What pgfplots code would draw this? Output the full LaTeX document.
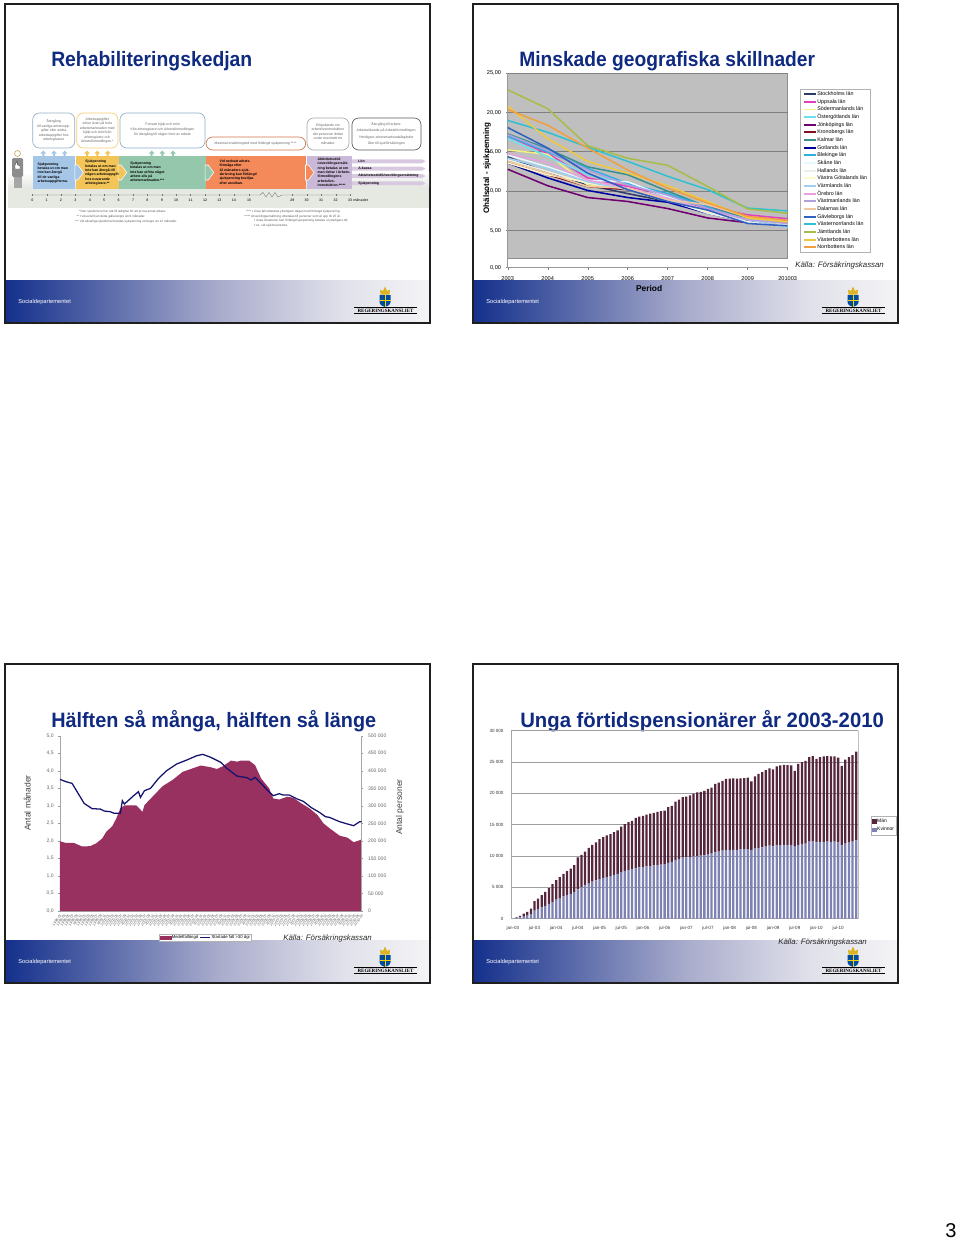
\documentclass[border=0pt]{standalone}
\usepackage{fontspec}
\setmainfont{Liberation Sans}
\newfontfamily\lserif{Liberation Serif}
\usepackage{pgfplots}
\usepackage{pgfplotstable}
\pgfplotsset{compat=1.18}
\newcommand\fs[2]{\fontsize{#1pt}{#2pt}\selectfont}
\definecolor{navy}{HTML}{0F2A80}
\definecolor{footL}{HTML}{14308C}
\definecolor{footM}{HTML}{A8ABCB}
\definecolor{footN}{HTML}{E0E0EA}
\definecolor{footR}{HTML}{F4F4F6}
\definecolor{bandC}{HTML}{E6E9E2}
\definecolor{cStockholm}{HTML}{2A3A6A}
\definecolor{cUppsala}{HTML}{E040C0}
\definecolor{cSoder}{HTML}{F5F080}
\definecolor{cOster}{HTML}{70E0F0}
\definecolor{cJonk}{HTML}{700070}
\definecolor{cKron}{HTML}{801020}
\definecolor{cKalmar}{HTML}{3A9090}
\definecolor{cGotland}{HTML}{0000A0}
\definecolor{cBlek}{HTML}{30B0E0}
\definecolor{cSkane}{HTML}{E8F8FF}
\definecolor{cHalland}{HTML}{E8F0E8}
\definecolor{cVG}{HTML}{FFF8C8}
\definecolor{cVarm}{HTML}{A0D0F0}
\definecolor{cOrebro}{HTML}{E8A0E0}
\definecolor{cVastm}{HTML}{B0A0E0}
\definecolor{cDal}{HTML}{F0C8A0}
\definecolor{cGav}{HTML}{3060C0}
\definecolor{cVastn}{HTML}{30C0D0}
\definecolor{cJamt}{HTML}{A8BC48}
\definecolor{cVastb}{HTML}{F0C840}
\definecolor{cNorr}{HTML}{F0A040}
\definecolor{maroon}{HTML}{983060}
\definecolor{lineNavy}{HTML}{14146E}
\definecolor{manC}{HTML}{55263C}
\definecolor{kvinnaC}{HTML}{7D82B2}
\definecolor{blueB}{HTML}{A6C6E8}
\definecolor{yellowB}{HTML}{F3C458}
\definecolor{greenB}{HTML}{95C7AD}
\definecolor{orangeB}{HTML}{F48A5A}
\definecolor{purpleB}{HTML}{C9B8D8}
\definecolor{lilacB}{HTML}{D8C8E0}

\newcommand\slidebase[2]{%
\begin{scope}[x=0.75pt,y=-0.75pt,xshift=#1*0.75pt,yshift=-#2*0.75pt]
\shade[left color=footL,right color=footM] (5,280) rectangle (217.5,322);
\shade[left color=footM,right color=footN] (217,280) rectangle (340.5,322);
\shade[left color=footN,right color=footR] (340,280) rectangle (430,322);
\draw[draw=black!88,line width=1.5pt] (5,4) rectangle (430,322.5);
\node[anchor=west,inner sep=0pt,text=white,font=\fs{4.3}{5}] at (18,302.5) {Socialdepartementet};
\fill[yellow!60!orange!85!black] (380.5,294.5) -- (380,289.5) -- (383,291) -- (385,286.5) -- (387,291) -- (390,289.5) -- (389.5,294.5) -- cycle;
\fill[blue!45!black!70!cyan] (379.5,295) -- (390.5,295) -- (390.5,302) .. controls (390.5,305) and (387,306.5) .. (385,307) .. controls (383,306.5) and (379.5,305) .. (379.5,302) -- cycle;
\draw[yellow!70!orange,line width=0.5pt] (385,295) -- (385,306.5) (379.5,300.5) -- (390.5,300.5);
\draw[black,line width=0.45pt] (354,307.3) -- (417,307.3);
\draw[black,line width=0.7pt] (354,313.7) -- (417,313.7);
\node[inner sep=0pt,font=\lserif\bfseries\fs{3.75}{4}] at (385.5,310.4) {REGERINGSKANSLIET};
\end{scope}}

\pgfplotstableread{
x w m
0 0 0
1 100 100
2 200 250
3 350 450
4 500 600
5 750 850
6 1300 1500
7 1550 1650
8 1800 1950
9 2050 2250
10 2350 2550
11 2650 2850
12 3050 3100
13 3300 3350
14 3550 3600
15 3750 3850
16 3950 4050
17 4250 4300
18 4700 5100
19 5050 5150
20 5300 5400
21 5600 5700
22 5900 5900
23 6100 6100
24 6300 6400
25 6500 6500
26 6650 6650
27 6800 6700
28 7000 6800
29 7150 6950
30 7450 7250
31 7650 7450
32 7800 7600
33 7900 7700
34 8050 8050
35 8200 8100
36 8250 8150
37 8350 8250
38 8400 8350
39 8500 8400
40 8600 8450
41 8650 8500
42 8700 8550
43 8900 8900
44 9050 8950
45 9350 9350
46 9550 9450
47 9750 9650
48 9800 9700
49 9850 9850
50 9950 10000
51 10000 10150
52 10050 10200
53 10100 10300
54 10300 10400
55 10400 10500
56 10600 10900
57 10700 11000
58 10850 11150
59 10950 11350
60 10950 11400
61 11000 11400
62 11000 11350
63 11050 11350
64 11100 11350
65 11100 11400
66 11000 10900
67 11200 11500
68 11300 11800
69 11400 12000
70 11500 12200
71 11650 12350
72 11550 12300
73 11700 12600
74 11750 12700
75 11800 12750
76 11800 12700
77 11800 12650
78 11500 12100
79 11800 12900
80 11950 13050
81 12000 13200
82 12300 13500
83 12400 13550
84 12200 13300
85 12250 13550
86 12250 13650
87 12300 13650
88 12250 13650
89 12300 13600
90 12200 13500
91 11700 12700
92 12050 13350
93 12150 13650
94 12300 13800
95 12500 14150
}\pensionstable

\pgfplotstableread{
x y
0 1.99
3 1.94
7 1.94
11 1.84
15 1.85
18 1.93
21 2.07
23 2.26
26 2.42
28 2.64
30 2.93
32 3.01
38 3.01
41 2.83
42 3.02
46 3.26
51 3.56
56 3.74
61 3.97
66 4.07
70 4.15
75 4.10
78 4.05
81 4.13
85 4.29
88 4.26
90 4.29
94 4.29
97 4.16
100 3.78
104 3.50
106 3.21
109 3.18
113 3.26
116 3.23
120 3.07
124 2.93
128 2.74
131 2.50
134 2.36
139 2.15
143 2.09
146 1.96
150 2.04
}\fallangd

\pgfplotstableread{
x y
0 375490
3 368830
6 364080
9 335560
12 307040
16 291830
20 290880
22 285180
25 283280
27 278530
30 278530
31 314650
32 305140
37 330810
39 340310
40 324150
42 343170
45 349820
49 378340
53 400200
58 419210
63 430620
68 442980
71 446780
75 438230
80 423970
83 406860
88 384990
93 380240
95 373590
97 381190
100 364080
103 345070
106 328910
109 334610
111 330810
114 330810
118 319400
121 312750
125 294690
129 281380
132 269020
134 267120
139 254760
143 248110
146 243350
149 254760
150 254760
}\startade

\begin{document}
\begin{tikzpicture}
\path[use as bounding box] (0,0) rectangle (720pt,-930pt);

% ---------- slide furniture ----------
\slidebase{0}{0}
\slidebase{468}{0}
\slidebase{0}{660}
\slidebase{468}{660}

\begin{scope}[x=0.75pt,y=-0.75pt]
% titles
\node[anchor=west,inner sep=0pt,text=navy,font=\bfseries\fs{15.6}{18}] at (51,61.3) {\scalebox{0.93}[1]{Rehabiliteringskedjan}};
\node[anchor=west,inner sep=0pt,text=navy,font=\bfseries\fs{15.6}{18}] at (519,61.3) {\scalebox{0.924}[1]{Minskade geografiska skillnader}};
\node[anchor=west,inner sep=0pt,text=navy,font=\bfseries\fs{15.6}{18}] at (51,721) {\scalebox{0.953}[1]{Hälften så många, hälften så länge}};
\node[anchor=west,inner sep=0pt,text=navy,font=\bfseries\fs{15.6}{18}] at (520,721) {\scalebox{0.977}[1]{Unga förtidspensionärer år 2003-2010}};

% page number
\node[inner sep=0pt,font=\fs{15}{18}] at (951,1230.5) {3};

% grey plot ground of the second slide
\fill[black!25,draw=black!45,line width=0.5pt] (507.7,73.3) rectangle (787.7,258);
% faint right border of the last chart
\draw[black!25,line width=0.5pt] (858,730.7) -- (858,918.7);

% ---------- infographic, first slide ----------
\shade[top color=white,bottom color=bandC] (8,172) rectangle (429,187);
\fill[bandC] (8,187) rectangle (429,208);

\foreach \xa/\xb/\ya/\yb/\c in {32.7/74.7/113/148/blueB!80!black!85,76.7/118/113/148/yellowB!85,120/205/113/148/greenB!80!blue!85,206/305.7/137/150/orangeB!85!black,307/349/118/150/black!35,352/421/118/150/black!65}
  \draw[\c,fill=white,line width=0.5pt,rounded corners=5pt] (\xa,\ya) rectangle (\xb,\yb);

\foreach \x/\c in {43.3/blueB,54/blueB,64.7/blueB,87/yellowB,97.3/yellowB,107.7/yellowB,151.7/greenB,162.3/greenB,173/greenB}
  \fill[\c] (\x-1,156) -- (\x-1,153.5) -- (\x-2.8,153.5) -- (\x,150.5) -- (\x+2.8,153.5) -- (\x+1,153.5) -- (\x+1,156) -- cycle;

\fill[blueB] (32.7,156) rectangle (75.3,188.7);
\fill[yellowB] (76,156) rectangle (118.7,188.7);
\fill[greenB] (119.3,156) rectangle (205.7,188.7);
\fill[orangeB] (206.3,156) rectangle (306,188.7);
\fill[purpleB] (306.7,156) rectangle (351.7,188.7);

\foreach \x/\c in {75.3/blueB,118.7/yellowB,205.7/greenB,306/orangeB}
  \fill[\c,draw=white,line width=0.4pt] (\x-0.5,165) -- (\x+2.5,165) -- (\x+8,172.5) -- (\x+2.5,180) -- (\x-0.5,180) -- cycle;

\foreach \y in {161.3,168.7,176,183.3}
  \fill[lilacB] (352,\y-2) -- (422,\y-2) -- (425.5,\y) -- (422,\y+2) -- (352,\y+2) -- cycle;
\node[anchor=west,inner sep=0pt,font=\bfseries\fs{2.6}{3}] at (358,161.3) {Lön};
\node[anchor=west,inner sep=0pt,font=\bfseries\fs{2.6}{3}] at (358,168.7) {A-kassa};
\node[anchor=west,inner sep=0pt,font=\bfseries\fs{2.6}{3}] at (358,176) {Aktivitetsstöd/Utvecklingsersättning};
\node[anchor=west,inner sep=0pt,font=\bfseries\fs{2.6}{3}] at (358,183.3) {Sjukpenning};

% person
\fill[black!35] (14,176) rectangle (22,188);
\fill[black!45,rounded corners=1pt] (12,158) rectangle (23,177);
\draw[yellowB!80!black,fill=white,line width=0.4pt] (17.5,153.5) circle (3);
\draw[black!80,fill=white,line width=0.3pt] (15,165) -- (17,161) -- (17.6,165) -- (20,165.5) -- (20,169) -- (15,169) -- cycle;

% timeline
\draw[black!55,line width=0.3pt] (32.3,195) -- (260,195) -- (263,192.5) -- (266,197) -- (269,192.5) -- (272,197) -- (275,192.5) -- (278,197) -- (282,195) -- (350,195);
\foreach \lab/\x in {0/32.3,1/46.7,2/61,3/75.5,4/89.8,5/104.2,6/118.6,7/133,8/147.4,9/161.8,10/176.2,11/190.6,12/205,13/219.4,14/233.8,15/249,29/292.3,30/306.7,31/321,32/335.7,33/350}{
  \draw[black!55,line width=0.3pt] (\x,194) -- (\x,196);
  \node[inner sep=0pt,font=\bfseries\fs{2.7}{3},text=black!75] at (\x,200) {\lab};
}
\node[anchor=west,inner sep=0pt,font=\bfseries\fs{2.7}{3},text=black!75] at (353,200.2) {månader};

% callout texts
\node[align=center,inner sep=0pt,text=black!60,font=\fs{2.6}{3.3}] at (53.7,130.5) {Återgång\\till vanliga arbetsupp-\\gifter eller andra\\arbetsuppgifter hos\\arbetsgivaren};
\node[align=center,inner sep=0pt,text=black!60,font=\fs{2.6}{3.3}] at (97.3,130.5) {Arbetsuppgifter\\söker även på hela\\arbetsmarknaden med\\hjälp och stöd från\\arbetsgivare och\\Arbetsförmedlingen.*};
\node[align=center,inner sep=0pt,text=black!60,font=\fs{2.6}{3.5}] at (162.5,129.5) {Fortsatt hjälp och stöd\\från arbetsgivare och Arbetsförmedlingen\\för återgång till någon form av arbete};
\node[inner sep=0pt,text=black!60,font=\fs{2.6}{3.3}] at (255.5,143.5) {Maximal ersättningstid med förlängd sjukpenning ****};
\node[align=center,inner sep=0pt,text=black!60,font=\fs{2.6}{3.3}] at (328,134) {Erbjudande om\\arbetslivsintroduktion\\där personen deltar\\under maximalt tre\\månader.};
\node[align=center,inner sep=0pt,text=black!60,font=\fs{2.6}{4.9}] at (386.5,134) {Återgång till arbete.\\Arbetssökande på Arbetsförmedlingen.\\Ytterligare arbetsmarknadsåtgärder.\\Åter till sjukförsäkringen};

% block texts
\node[anchor=north west,align=left,inner sep=0pt,font=\bfseries\fs{2.6}{3.25}] at (37.3,162.5) {Sjukpenning\\betalas ut om man\\inte kan återgå\\till de vanliga\\arbetsuppgifterna.};
\node[anchor=north west,align=left,inner sep=0pt,font=\bfseries\fs{2.6}{3.25}] at (85,160.2) {Sjukpenning\\betalas ut om man\\inte kan återgå till\\någon arbetsuppgift\\hos nuvarande\\arbetsgivare.**};
\node[anchor=north west,align=left,inner sep=0pt,font=\bfseries\fs{2.6}{3.25}] at (130,161.8) {Sjukpenning\\betalas ut om man\\inte kan utföra något\\arbete alls på\\arbetsmarknaden.***};
\node[anchor=north west,align=left,inner sep=0pt,font=\bfseries\fs{2.6}{3.25}] at (219.3,159.8) {Vid nedsatt arbets-\\förmåga efter\\12 månaders sjuk-\\skrivning kan förlängd\\sjukpenning beviljas\\efter ansökan.};
\node[anchor=north west,align=left,inner sep=0pt,font=\bfseries\fs{2.6}{3.25}] at (317.3,157.8) {Aktivitetsstöd\\/utvecklingsersätt-\\ning betalas ut om\\man deltar i Arbets-\\förmedlingens\\arbetslivs-\\introduktion.*****};

% footnotes
\node[anchor=west,inner sep=0pt,text=black!65,font=\fs{2.35}{3}] at (78.3,211.7) {* Den sjukskrivne har rätt till ledighet för att prova annat arbete.};
\node[anchor=west,inner sep=0pt,text=black!65,font=\fs{2.35}{3}] at (76.3,216.7) {** I vissa fall kan detta gälla längre än 6 månader.};
\node[anchor=west,inner sep=0pt,text=black!65,font=\fs{2.35}{3}] at (75,221.3) {*** Vid allvarliga sjukdomar betalas sjukpenning ut längre än 12 månader.};
\node[anchor=west,inner sep=0pt,text=black!65,font=\fs{2.35}{3}] at (246,211.7) {**** I vissa fall utbetalas ytterligare dagar med förlängd sjukpenning.};
\node[anchor=west,inner sep=0pt,text=black!65,font=\fs{2.35}{3}] at (244,216.3) {***** Utvecklingsersättning utbetalas till personer som är upp till 25 år.};
\node[anchor=west,inner sep=0pt,text=black!65,font=\fs{2.35}{3}] at (254,221) {I vissa situationer kan förlängd sjukpenning betalas ut ytterligare tid,};
\node[anchor=west,inner sep=0pt,text=black!65,font=\fs{2.35}{3}] at (254,226) {t.ex. vid sjukhusvistelse.};

% sources
\node[anchor=west,inner sep=0pt,font=\itshape\fs{5.9}{7},text=black!85] at (795,265.3) {Källa: Försäkringskassan};
\node[anchor=west,inner sep=0pt,font=\itshape\fs{5.9}{7},text=black!85] at (283,938.5) {Källa: Försäkringskassan};
\node[anchor=west,inner sep=0pt,font=\itshape\fs{5.9}{7},text=black!85] at (778,942) {Källa: Försäkringskassan};
\end{scope}

% ---------- chart: Minskade geografiska skillnader ----------
\begin{axis}[
  at={(507.7*0.75pt,-267.5*0.75pt)},anchor=south west,
  scale only axis,width=280*0.75pt,height=194.2*0.75pt,
  xmin=0,xmax=7,ymin=0.3,ymax=25,
  axis y line=left,axis x line=bottom,
  axis line style={-,draw=black!40,line width=0.4pt},
  xtick={0,...,7},xticklabels={2003,2004,2005,2006,2007,2008,2009,201003},
  ytick={0.3,5,10,15,20,25},yticklabels={{0,00},{5,00},{10,00},{15,00},{20,00},{25,00}},
  ticklabel style={font=\fs{4.2}{5}},
  xticklabel style={yshift=-1.6pt},
  tick style={draw=black!50,line width=0.3pt},
  major tick length=1.5pt,tick align=outside,
  ymajorgrids,grid style={draw=black!50,line width=0.7pt},
  ylabel={Ohälsotal - sjukpenning},xlabel={Period},
  y label style={at={(axis description cs:-0.074,0.512)},anchor=center,font=\bfseries\fs{6}{7}},
  x label style={at={(axis description cs:0.505,-0.1056)},anchor=center,font=\bfseries\fs{6.3}{7}},
  legend style={at={(1.044,0.918)},anchor=north west,draw=black!30,line width=0.4pt,fill=white,
    font=\fs{4}{4.4},row sep=1.95pt,inner xsep=2pt,inner ysep=1.5pt,
    nodes={inner sep=0pt,text height=3pt,text depth=0.8pt},
    cells={anchor=west}},
  legend image code/.code={\draw[#1,line width=1.3pt] (0pt,0pt) -- (9.5pt,0pt);},
  every axis plot/.append style={line width=1.15pt,no marks},
]
\addplot[cStockholm] coordinates {(0,14.4)(1,12.3)(2,10.8)(3,9.7)(4,8.7)(5,7.6)(6,6.0)(7,5.8)};
\addlegendentry{Stockholms län}
\addplot[cUppsala] coordinates {(0,17.0)(1,14.8)(2,11.7)(3,10.6)(4,9.5)(5,8.0)(6,7.0)(7,6.5)};
\addlegendentry{Uppsala län}
\addplot[cSoder] coordinates {(0,15.25)(1,14.7)(2,10.8)(3,10.2)(4,8.7)(5,7.4)(6,6.4)(7,5.9)};
\addlegendentry{Södermanlands län}
\addplot[cOster] coordinates {(0,16.7)(1,14.4)(2,12.1)(3,11.0)(4,9.3)(5,7.6)(6,6.1)(7,5.6)};
\addlegendentry{Östergötlands län}
\addplot[cJonk] coordinates {(0,12.8)(1,10.7)(2,9.2)(3,8.7)(4,7.8)(5,6.6)(6,6.0)(7,5.6)};
\addlegendentry{Jönköpings län}
\addplot[cKron] coordinates {(0,13.8)(1,12.1)(2,10.6)(3,10.2)(4,8.9)(5,7.8)(6,6.2)(7,5.9)};
\addlegendentry{Kronobergs län}
\addplot[cKalmar] coordinates {(0,17.3)(1,15.4)(2,13.1)(3,12.1)(4,10.0)(5,8.0)(6,6.6)(7,6.1)};
\addlegendentry{Kalmar län}
\addplot[cGotland] coordinates {(0,13.6)(1,11.7)(2,10.1)(3,9.2)(4,8.6)(5,7.2)(6,6.1)(7,5.7)};
\addlegendentry{Gotlands län}
\addplot[cBlek] coordinates {(0,17.0)(1,15.0)(2,12.9)(3,11.0)(4,9.7)(5,8.0)(6,6.1)(7,5.7)};
\addlegendentry{Blekinge län}
\addplot[cSkane] coordinates {(0,14.6)(1,13.1)(2,11.4)(3,11.2)(4,9.3)(5,7.4)(6,6.1)(7,5.6)};
\addlegendentry{Skåne län}
\addplot[cHalland] coordinates {(0,14.0)(1,12.5)(2,11.0)(3,10.4)(4,8.9)(5,7.2)(6,6.1)(7,5.5)};
\addlegendentry{Hallands län}
\addplot[cVG] coordinates {(0,13.6)(1,12.1)(2,11.1)(3,10.4)(4,9.1)(5,7.4)(6,6.4)(7,5.8)};
\addlegendentry{Västra Götalands län}
\addplot[cVarm] coordinates {(0,14.2)(1,12.9)(2,11.2)(3,10.2)(4,9.1)(5,7.6)(6,6.4)(7,5.4)};
\addlegendentry{Värmlands län}
\addplot[cOrebro] coordinates {(0,14.8)(1,13.6)(2,11.4)(3,10.4)(4,9.1)(5,7.6)(6,6.4)(7,5.9)};
\addlegendentry{Örebro län}
\addplot[cVastm] coordinates {(0,17.2)(1,15.2)(2,12.7)(3,10.8)(4,9.5)(5,7.8)(6,6.4)(7,5.9)};
\addlegendentry{Västmanlands län}
\addplot[cDal] coordinates {(0,13.8)(1,12.3)(2,10.6)(3,10.4)(4,8.9)(5,8.3)(6,6.7)(7,6.2)};
\addlegendentry{Dalarnas län}
\addplot[cGav] coordinates {(0,18.1)(1,15.5)(2,12.3)(3,10.2)(4,8.7)(5,7.6)(6,5.9)(7,5.6)};
\addlegendentry{Gävleborgs län}
\addplot[cVastn] coordinates {(0,19.0)(1,17.5)(2,15.6)(3,13.8)(4,11.9)(5,10.2)(6,7.85)(7,7.5)};
\addlegendentry{Västernorrlands län}
\addplot[cJamt] coordinates {(0,22.9)(1,20.5)(2,15.8)(3,14.2)(4,13.3)(5,10.6)(6,7.75)(7,7.2)};
\addlegendentry{Jämtlands län}
\addplot[cVastb] coordinates {(0,20.8)(1,16.7)(2,13.8)(3,12.3)(4,10.7)(5,8.7)(6,6.6)(7,6.1)};
\addlegendentry{Västerbottens län}
\addplot[cNorr] coordinates {(0,20.4)(1,18.4)(2,15.5)(3,12.7)(4,10.4)(5,8.5)(6,6.8)(7,6.3)};
\addlegendentry{Norrbottens län}
\end{axis}

% ---------- chart: Hälften så många, hälften så länge ----------
\begin{axis}[
  at={(60*0.75pt,-911*0.75pt)},anchor=south west,
  scale only axis,width=301.7*0.75pt,height=175.3*0.75pt,
  xmin=0,xmax=150,ymin=0,ymax=5,
  axis y line*=left,axis x line*=bottom,
  axis line style={-,draw=black!35,line width=0.4pt},
  ytick={0,0.5,...,5},
  yticklabels={{0,0},{0,5},{1,0},{1,5},{2,0},{2,5},{3,0},{3,5},{4,0},{4,5},{5,0}},
  xtick={0,2,...,150},
  xticklabels={1998-01,1998-03,1998-05,1998-07,1998-09,1998-11,1999-01,1999-03,1999-05,1999-07,1999-09,1999-11,2000-01,2000-03,2000-05,2000-07,2000-09,2000-11,2001-01,2001-03,2001-05,2001-07,2001-09,2001-11,2002-01,2002-03,2002-05,2002-07,2002-09,2002-11,2003-01,2003-03,2003-05,2003-07,2003-09,2003-11,2004-01,2004-03,2004-05,2004-07,2004-09,2004-11,2005-01,2005-03,2005-05,2005-07,2005-09,2005-11,2006-01,2006-03,2006-05,2006-07,2006-09,2006-11,2007-01,2007-03,2007-05,2007-07,2007-09,2007-11,2008-01,2008-03,2008-05,2008-07,2008-09,2008-11,2009-01,2009-03,2009-05,2009-07,2009-09,2009-11,2010-01,2010-03,2010-05,2010-07},
  x tick style={draw=none},
  y tick style={draw=black!40,line width=0.3pt},
  major tick length=1.2pt,tick align=outside,
  yticklabel style={font=\fs{3.8}{4.5},text=black!60},
  xticklabel style={font=\fs{2.7}{3},text=black!65,rotate=52,anchor=north east,inner sep=0.6pt},
  ylabel={Antal månader},
  y label style={at={(axis description cs:-0.109,0.616)},anchor=center,font=\fs{6.4}{7.5},text=black!75},
]
\addplot[fill=maroon,draw=none] table[x=x,y=y] {\fallangd} \closedcycle;
\end{axis}
\begin{axis}[
  at={(60*0.75pt,-911*0.75pt)},anchor=south west,
  scale only axis,width=301.7*0.75pt,height=175.3*0.75pt,
  xmin=0,xmax=150,ymin=0,ymax=500000,
  scaled y ticks=false,
  axis y line*=right,axis x line=none,
  axis line style={-,draw=black!35,line width=0.4pt},
  ytick={0,50000,100000,150000,200000,250000,300000,350000,400000,450000,500000},
  yticklabels={0,50 000,100 000,150 000,200 000,250 000,300 000,350 000,400 000,450 000,500 000},
  y tick style={draw=black!40,line width=0.3pt},
  major tick length=1.2pt,tick align=outside,
  yticklabel style={font=\fs{3.8}{4.5},text=black!60,anchor=west},
  ylabel={Antal personer},
  y label style={at={(axis description cs:1.127,0.593)},anchor=center,font=\fs{6.4}{7.5},text=black!75},
  legend columns=2,
  legend style={at={(0.328,-0.131)},anchor=north west,draw=black!30,line width=0.4pt,fill=white,
    font=\fs{3.2}{3.8},inner xsep=0.6pt,inner ysep=0.3pt,
    nodes={inner sep=0.4pt},/tikz/every even column/.append style={column sep=0.3pt}},
]
\addlegendimage{legend image code/.code={\fill[maroon] (0pt,-1.2pt) rectangle (8pt,1.4pt);}}
\addlegendentry{Medelfallängd}
\addplot[lineNavy,line width=0.95pt,no marks,legend image code/.code={\draw[lineNavy,line width=0.8pt] (0pt,0pt) -- (8pt,0pt);}] table[x=x,y=y] {\startade};
\addlegendentry{Startade fall >30 dgr}
\end{axis}

% ---------- chart: Unga förtidspensionärer ----------
\begin{axis}[
  at={(511*0.75pt,-918.7*0.75pt)},anchor=south west,
  scale only axis,width=347*0.75pt,height=188*0.75pt,
  xmin=-0.5,xmax=95.5,ymin=0,ymax=30000,
  scaled y ticks=false,
  ybar stacked,bar width=1.7pt,
  axis y line=left,axis x line=bottom,
  axis line style={-,draw=black!35,line width=0.7pt},
  xtick={0,6,...,90},
  xticklabels={jan-03,jul-03,jan-04,jul-04,jan-05,jul-05,jan-06,jul-06,jan-07,jul-07,jan-08,jul-08,jan-09,jul-09,jan-10,jul-10},
  ytick={0,5000,10000,15000,20000,25000,30000},
  yticklabels={0,5 000,10 000,15 000,20 000,25 000,30 000},
  ticklabel style={font=\fs{3.4}{4},text=black!80},
  x tick style={draw=none},y tick style={draw=none},
  ymajorgrids,grid style={draw=black!38,line width=0.6pt},
  legend style={at={(1.037,0.546)},anchor=north west,draw=black!30,line width=0.4pt,fill=white,
    font=\fs{3.7}{4.1},inner xsep=0.8pt,inner ysep=1.2pt,row sep=1pt,cells={anchor=west},
    nodes={inner sep=0.6pt}},
  legend image code/.code={\fill[#1] (0pt,-1.3pt) rectangle (2.8pt,1.3pt);},
]
\addplot[fill=kvinnaC,draw=none,forget plot] table[x=x,y=w] {\pensionstable};
\addplot[fill=manC,draw=none,forget plot] table[x=x,y=m] {\pensionstable};
\addlegendimage{fill=manC,manC}
\addlegendentry{Män}
\addlegendimage{fill=kvinnaC,kvinnaC}
\addlegendentry{Kvinnor}
\end{axis}
\end{tikzpicture}
\end{document}
